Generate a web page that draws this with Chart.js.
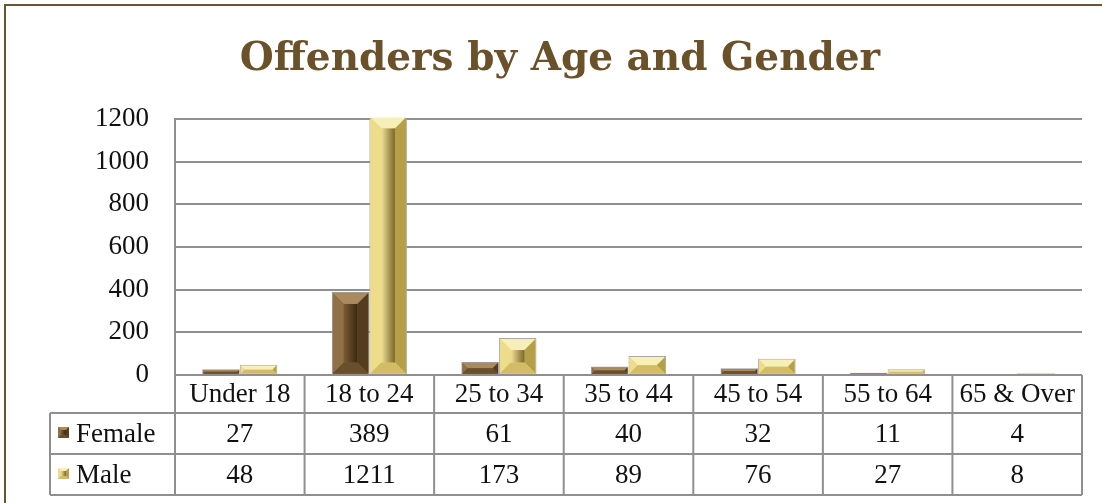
<!DOCTYPE html>
<html lang="en">
<head>
  <meta charset="UTF-8">
  <title>Offenders by Age and Gender</title>
  <script src="https://cdn.jsdelivr.net/npm/chart.js"></script>
  <style>
    body { margin: 0; background: #fff; }
    #offChart { display: block; }
  </style>
</head>
<body>
  <canvas id="offChart" width="1102" height="503"></canvas>

  <script>
    // datos
    const ageGroups = ['Under 18', '18 to 24', '25 to 34', '35 to 44', '45 to 54', '55 to 64', '65 & Over'];
    const femaleCounts = [27, 389, 61, 40, 32, 11, 4];
    const maleCounts = [48, 1211, 173, 89, 76, 27, 8];
    const yTicks = [0, 200, 400, 600, 800, 1000, 1200];

    const bodyFont = '"Liberation Serif", serif';
    const lineGray = '#8f8f8f';

    // colores de las facetas para el efecto biselado
    const bevelColors = {
      Female: { base: '#7d5f37', top: '#a98b5f', left: '#8f7047', right: '#553c1d', bottom: '#6a4f2c', c1: '#7a5b33', c2: '#3b2911' },
      Male:   { base: '#e3d07a', top: '#f7efb8', left: '#eddc8a', right: '#b59f48', bottom: '#d3bd64', c1: '#efdf96', c2: '#7b6628' }
    };

    function poly(ctx, pts, color) {
      ctx.beginPath();
      ctx.moveTo(pts[0][0], pts[0][1]);
      for (let i = 1; i < pts.length; i++) ctx.lineTo(pts[i][0], pts[i][1]);
      ctx.closePath();
      ctx.fillStyle = color;
      ctx.fill();
    }

    function drawBevel(ctx, L, T, R, B, col, size) {
      const w = R - L, h = B - T;
      if (w <= 0 || h <= 0) return;
      const b = Math.min(size, w / 2, h / 2);
      poly(ctx, [[L, T], [R, T], [R - b, T + b], [L + b, T + b]], col.top);
      poly(ctx, [[L, T], [L + b, T + b], [L + b, B - b], [L, B]], col.left);
      poly(ctx, [[R, T], [R, B], [R - b, B - b], [R - b, T + b]], col.right);
      poly(ctx, [[L, B], [L + b, B - b], [R - b, B - b], [R, B]], col.bottom);
      const iw = w - 2 * b, ih = h - 2 * b;
      if (iw > 0 && ih > 0) {
        const g = ctx.createLinearGradient(L + b, 0, R - b, 0);
        g.addColorStop(0, col.c1);
        g.addColorStop(1, col.c2);
        ctx.fillStyle = g;
        ctx.fillRect(L + b, T + b, iw, ih);
      }
    }

    // biselado sobre cada barra
    const bevelPlugin = {
      id: 'bevel',
      afterDatasetsDraw(chart) {
        const ctx = chart.ctx;
        chart.data.datasets.forEach((ds, i) => {
          const col = bevelColors[ds.label];
          chart.getDatasetMeta(i).data.forEach((el) => {
            const p = el.getProps(['x', 'y', 'base', 'width'], true);
            const L = p.x - p.width / 2 + 1, R = p.x + p.width / 2 - 1;
            const T = Math.min(p.y, p.base) + 1, B = Math.max(p.y, p.base) - 0.5;
            ctx.save();
            drawBevel(ctx, L, T, R, B, col, 11);
            ctx.restore();
          });
        });
      }
    };

    // tabla de datos debajo del eje x + marco marron
    const tablePlugin = {
      id: 'dataTable',
      beforeDraw(chart) {
        const ctx = chart.ctx;
        ctx.save();
        ctx.fillStyle = '#fff';
        ctx.fillRect(0, 0, chart.width, chart.height);
        ctx.strokeStyle = '#6b5530';
        ctx.lineWidth = 2;
        ctx.beginPath();
        ctx.moveTo(5, chart.height);
        ctx.lineTo(5, 5);
        ctx.lineTo(chart.width, 5);
        ctx.stroke();
        ctx.restore();
      },
      afterDraw(chart) {
        const ctx = chart.ctx;
        const area = chart.chartArea;
        const xs = chart.scales.x;
        const colW = (area.right - area.left) / ageGroups.length;
        const rows = [area.bottom, area.bottom + 38, area.bottom + 79, area.bottom + 120];
        const legendLeft = 50;

        ctx.save();
        ctx.strokeStyle = lineGray;
        ctx.lineWidth = 2;
        ctx.beginPath();
        ctx.moveTo(area.left, rows[0]);
        ctx.lineTo(area.right, rows[0]);
        for (let r = 1; r < rows.length; r++) {
          ctx.moveTo(legendLeft, rows[r]);
          ctx.lineTo(area.right, rows[r]);
        }
        for (let c = 0; c <= ageGroups.length; c++) {
          const x = area.left + c * colW;
          ctx.moveTo(x, rows[0]);
          ctx.lineTo(x, rows[3]);
        }
        ctx.moveTo(legendLeft, rows[1]);
        ctx.lineTo(legendLeft, rows[3]);
        ctx.stroke();

        ctx.fillStyle = '#111';
        ctx.font = '27px ' + bodyFont;
        ctx.textAlign = 'center';
        ctx.textBaseline = 'middle';
        ageGroups.forEach((lab, i) => {
          const cx = xs.getPixelForValue(i);
          ctx.fillText(lab, cx, (rows[0] + rows[1]) / 2 + 1);
          ctx.fillText(String(femaleCounts[i]), cx, (rows[1] + rows[2]) / 2 + 1);
          ctx.fillText(String(maleCounts[i]), cx, (rows[2] + rows[3]) / 2 + 1);
        });

        // leyenda dentro de la tabla
        chart.data.datasets.forEach((ds, i) => {
          const cy = (rows[i + 1] + rows[i + 2]) / 2;
          const col = bevelColors[ds.label];
          ctx.fillStyle = col.base;
          ctx.fillRect(58, cy - 6.5, 11, 11);
          drawBevel(ctx, 58, cy - 6.5, 69, cy + 4.5, col, 3);
          ctx.fillStyle = '#111';
          ctx.textAlign = 'left';
          ctx.fillText(ds.label, 76, cy + 1);
        });
        ctx.restore();
      }
    };

    const ctx = document.getElementById('offChart').getContext('2d');
    const offChart = new Chart(ctx, {
      type: 'bar',
      data: {
        labels: ageGroups,
        datasets: [
          { label: 'Female', data: femaleCounts, backgroundColor: bevelColors.Female.base, borderColor: '#9a9a9a', borderWidth: 1 },
          { label: 'Male', data: maleCounts, backgroundColor: bevelColors.Male.base, borderColor: '#a8a8a8', borderWidth: 1 }
        ]
      },
      options: {
        responsive: false,
        animation: false,
        layout: { padding: { top: 0, left: 38, right: 20, bottom: 8 } },
        datasets: { bar: { categoryPercentage: 0.58, barPercentage: 1 } },
        plugins: {
          legend: { display: false },
          tooltip: { enabled: false },
          title: {
            display: true,
            text: 'Offenders by Age and Gender',
            color: '#6b5129',
            font: { family: '"DejaVu Serif", serif', size: 39, weight: 'bold' },
            padding: { top: 36, bottom: 36 }
          }
        },
        scales: {
          x: {
            grid: { display: false },
            border: { display: false },
            ticks: { display: false },
            afterFit(scale) { scale.height = 120; }
          },
          y: {
            min: 0,
            max: 1200,
            afterFit(scale) { scale.width = 137; },
            afterBuildTicks(scale) { scale.ticks = yTicks.map(v => ({ value: v })); },
            grid: { color: lineGray, lineWidth: 2, drawTicks: false },
            border: { display: true, color: lineGray, width: 2 },
            ticks: {
              padding: 26,
              color: '#111',
              font: { family: bodyFont, size: 27 },
              callback: (v) => String(v)
            }
          }
        }
      },
      plugins: [tablePlugin, bevelPlugin]
    });
  </script>
</body>
</html>
